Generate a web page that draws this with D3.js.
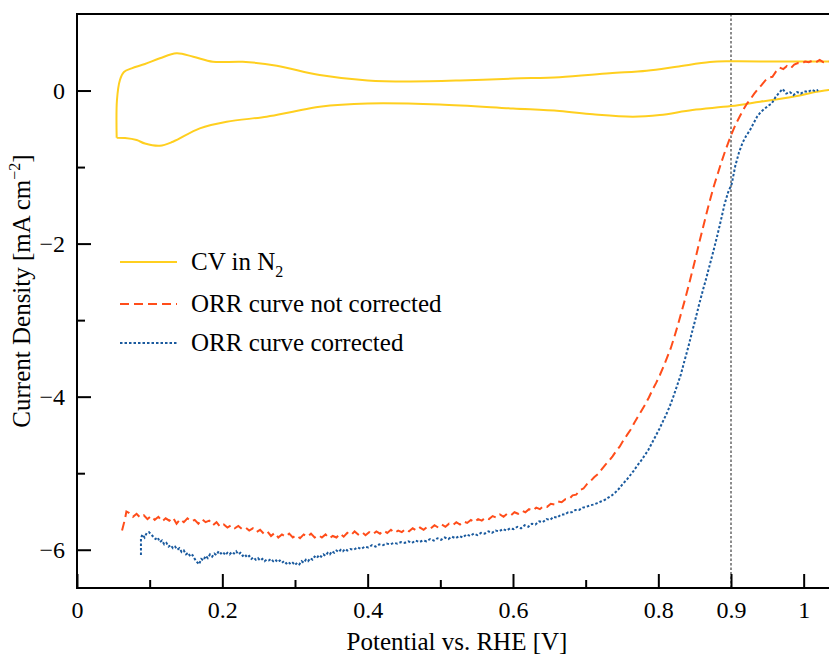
<!DOCTYPE html>
<html><head><meta charset="utf-8">
<script src="https://cdn.jsdelivr.net/npm/d3@7"></script>
<style>body{margin:0;background:#fff}svg{display:block}svg text{font-family:'Liberation Serif','Tinos','Times New Roman',Times,'DejaVu Serif',serif !important;fill:#000}</style>
</head><body>
<svg id="c" width="829" height="655"></svg>
<script>
// ---- data ----
const xMajorTicks = [0, 0.2, 0.4, 0.6, 0.8, 0.9, 1];
const xMajorLabels = ["0", "0.2", "0.4", "0.6", "0.8", "0.9", "1"];
const xMinorTicks = [0.1, 0.3, 0.5, 0.7];
const yMajorTicks = [0, -2, -4, -6];
const yMajorLabels = ["0", "\u22122", "\u22124", "\u22126"];
const yMinorTicks = [-1, -3, -5];
const refLineX = 0.9;
const seriesNames = ["CV in N", "ORR curve not corrected", "ORR curve corrected"];

// CV in N2 (closed loop)
const cvX = [0.0546,0.055,0.0591,0.0646,0.0752,0.0935,0.114,0.137,0.160,0.187,0.228,0.275,0.334,0.400,0.458,0.527,0.600,0.664,0.733,0.784,0.825,0.871,0.900,0.967,1.034,1.05,
 1.05,1.034,1.018,0.985,0.940,0.900,0.847,0.802,0.765,0.710,0.664,0.600,0.499,0.400,0.334,0.297,0.261,0.206,0.169,0.132,0.114,0.0935,0.0821,0.066,0.0546];
const cvY = [-0.617,-0.124,0.137,0.242,0.290,0.346,0.421,0.486,0.442,0.376,0.376,0.324,0.203,0.131,0.118,0.131,0.157,0.173,0.225,0.259,0.311,0.373,0.382,0.379,0.379,0.379,
 0.03,0.007,-0.016,-0.081,-0.146,-0.203,-0.255,-0.320,-0.342,-0.311,-0.268,-0.235,-0.183,-0.170,-0.212,-0.277,-0.342,-0.408,-0.494,-0.669,-0.722,-0.693,-0.647,-0.621,-0.617];

// ORR not corrected
const orrX = [0.062,0.066,0.068,0.072,0.077,0.082,0.087,0.092,0.097,0.102,0.107,0.112,0.117,0.122,0.127,0.132,0.137,0.142,0.147,0.152,0.157,0.162,0.167,0.172,0.177,0.182,0.187,0.192,0.197,0.202,0.207,0.212,0.217,0.222,0.227,0.232,0.237,0.242,0.247,0.252,0.257,0.262,0.267,0.272,0.277,0.282,0.287,0.292,0.297,0.302,0.307,0.312,0.317,0.322,0.327,0.332,0.337,0.342,0.347,0.352,0.357,0.362,0.367,0.372,0.377,0.382,0.387,0.392,0.397,0.402,0.407,0.412,0.417,0.422,0.427,0.432,0.437,0.442,0.447,0.452,0.457,0.462,0.467,0.472,0.477,0.482,0.487,0.492,0.497,0.502,0.507,0.512,0.517,0.522,0.527,0.532,0.537,0.542,0.547,0.552,0.557,0.562,0.567,0.572,0.577,0.582,0.587,0.592,0.597,0.602,0.607,0.612,0.617,0.622,0.627,0.632,0.637,0.642,0.647,0.652,0.657,0.662,0.667,0.672,0.677,0.682,0.687,0.692,0.697,0.702,0.707,0.712,0.717,0.722,0.727,0.732,0.737,0.742,0.747,0.752,0.757,0.762,0.767,0.772,0.777,0.782,0.787,0.792,0.797,0.802,0.807,0.812,0.817,0.822,0.827,0.832,0.837,0.842,0.847,0.852,0.857,0.862,0.867,0.872,0.877,0.882,0.887,0.892,0.897,0.902,0.907,0.912,0.917,0.922,0.927,0.932,0.937,0.942,0.947,0.952,0.957,0.962,0.967,0.972,0.977,0.982,0.987,0.992,0.997,1.002,1.007,1.012,1.017,1.022,1.027,1.034,1.045];
const orrY = [-5.75,-5.60,-5.50,-5.52,-5.57,-5.53,-5.58,-5.55,-5.60,-5.56,-5.61,-5.57,-5.63,-5.59,-5.62,-5.58,-5.66,-5.60,-5.64,-5.59,-5.63,-5.61,-5.66,-5.60,-5.64,-5.62,-5.68,-5.64,-5.70,-5.67,-5.71,-5.68,-5.72,-5.69,-5.73,-5.71,-5.75,-5.72,-5.77,-5.74,-5.79,-5.76,-5.82,-5.78,-5.84,-5.80,-5.83,-5.79,-5.84,-5.81,-5.85,-5.80,-5.83,-5.79,-5.84,-5.81,-5.84,-5.80,-5.85,-5.82,-5.84,-5.79,-5.83,-5.78,-5.81,-5.76,-5.80,-5.77,-5.81,-5.77,-5.80,-5.76,-5.79,-5.75,-5.78,-5.74,-5.78,-5.75,-5.77,-5.73,-5.76,-5.72,-5.75,-5.71,-5.74,-5.70,-5.72,-5.68,-5.71,-5.67,-5.70,-5.66,-5.68,-5.64,-5.67,-5.63,-5.65,-5.61,-5.64,-5.60,-5.62,-5.58,-5.60,-5.56,-5.58,-5.54,-5.57,-5.53,-5.55,-5.51,-5.53,-5.49,-5.51,-5.47,-5.49,-5.45,-5.47,-5.43,-5.44,-5.40,-5.41,-5.37,-5.38,-5.34,-5.34,-5.29,-5.28,-5.22,-5.20,-5.14,-5.10,-5.05,-5.01,-4.95,-4.89,-4.84,-4.78,-4.71,-4.65,-4.57,-4.50,-4.43,-4.34,-4.26,-4.18,-4.10,-4.01,-3.91,-3.82,-3.72,-3.61,-3.49,-3.37,-3.22,-3.06,-2.89,-2.72,-2.54,-2.35,-2.16,-1.96,-1.77,-1.58,-1.40,-1.23,-1.08,-0.93,-0.79,-0.66,-0.54,-0.43,-0.34,-0.25,-0.17,-0.11,-0.04,0.02,0.07,0.13,0.17,0.18,0.25,0.30,0.28,0.32,0.29,0.34,0.36,0.35,0.38,0.37,0.39,0.37,0.40,0.37,0.38,0.38];

// ORR corrected
const corX = [0.088,0.088,0.090,0.093,0.096,0.099,0.102,0.105,0.108,0.111,0.114,0.117,0.120,0.123,0.126,0.129,0.132,0.135,0.138,0.141,0.144,0.147,0.150,0.153,0.156,0.159,0.162,0.165,0.168,0.171,0.174,0.177,0.180,0.183,0.186,0.189,0.192,0.195,0.198,0.201,0.204,0.207,0.210,0.213,0.216,0.219,0.222,0.225,0.228,0.231,0.234,0.237,0.240,0.243,0.246,0.249,0.252,0.255,0.258,0.261,0.264,0.267,0.270,0.273,0.276,0.279,0.282,0.285,0.288,0.291,0.294,0.297,0.300,0.303,0.306,0.309,0.312,0.315,0.318,0.321,0.324,0.327,0.330,0.333,0.336,0.339,0.342,0.345,0.348,0.351,0.354,0.357,0.360,0.363,0.366,0.369,0.372,0.376,0.381,0.386,0.391,0.396,0.401,0.406,0.411,0.416,0.421,0.426,0.431,0.436,0.441,0.446,0.451,0.456,0.461,0.466,0.471,0.476,0.481,0.486,0.491,0.496,0.501,0.506,0.511,0.516,0.521,0.526,0.531,0.536,0.541,0.546,0.551,0.556,0.561,0.566,0.571,0.576,0.581,0.586,0.591,0.596,0.601,0.606,0.611,0.616,0.621,0.626,0.631,0.636,0.641,0.646,0.651,0.656,0.661,0.666,0.671,0.676,0.681,0.686,0.691,0.696,0.701,0.706,0.711,0.716,0.721,0.726,0.731,0.736,0.741,0.746,0.751,0.756,0.761,0.766,0.771,0.776,0.781,0.786,0.791,0.796,0.801,0.806,0.811,0.816,0.821,0.826,0.831,0.836,0.841,0.846,0.851,0.856,0.861,0.866,0.871,0.876,0.881,0.886,0.891,0.896,0.901,0.906,0.911,0.916,0.921,0.926,0.931,0.936,0.941,0.946,0.951,0.956,0.961,0.966,0.971,0.976,0.981,0.986,0.991,0.996,1.001,1.006,1.011,1.016,1.020];
const corY = [-6.07,-5.85,-5.80,-5.84,-5.78,-5.77,-5.80,-5.83,-5.86,-5.84,-5.90,-5.88,-5.93,-5.91,-5.96,-5.94,-5.98,-5.96,-6.00,-5.98,-6.03,-6.01,-6.06,-6.04,-6.09,-6.07,-6.12,-6.16,-6.19,-6.12,-6.14,-6.08,-6.11,-6.06,-6.09,-6.05,-6.07,-6.02,-6.05,-6.03,-6.07,-6.04,-6.06,-6.03,-6.05,-6.02,-6.06,-6.04,-6.08,-6.06,-6.10,-6.08,-6.12,-6.10,-6.13,-6.11,-6.14,-6.12,-6.15,-6.13,-6.14,-6.12,-6.15,-6.13,-6.16,-6.14,-6.17,-6.15,-6.18,-6.16,-6.19,-6.17,-6.20,-6.17,-6.19,-6.15,-6.17,-6.13,-6.15,-6.11,-6.13,-6.09,-6.11,-6.07,-6.09,-6.06,-6.08,-6.04,-6.06,-6.02,-6.04,-6.01,-6.03,-6.00,-6.02,-5.99,-6.01,-5.99,-6.00,-5.97,-5.99,-5.96,-5.97,-5.94,-5.96,-5.93,-5.94,-5.92,-5.93,-5.91,-5.92,-5.90,-5.91,-5.89,-5.91,-5.88,-5.90,-5.88,-5.89,-5.86,-5.88,-5.85,-5.87,-5.84,-5.86,-5.83,-5.85,-5.82,-5.84,-5.80,-5.82,-5.79,-5.81,-5.78,-5.79,-5.76,-5.78,-5.75,-5.76,-5.73,-5.75,-5.72,-5.73,-5.70,-5.72,-5.68,-5.70,-5.66,-5.67,-5.63,-5.64,-5.60,-5.61,-5.57,-5.58,-5.54,-5.54,-5.51,-5.51,-5.48,-5.48,-5.45,-5.44,-5.42,-5.41,-5.39,-5.37,-5.35,-5.32,-5.29,-5.25,-5.20,-5.14,-5.09,-5.03,-4.97,-4.90,-4.84,-4.77,-4.70,-4.61,-4.52,-4.43,-4.33,-4.23,-4.12,-3.99,-3.85,-3.71,-3.53,-3.36,-3.17,-2.99,-2.80,-2.62,-2.45,-2.27,-2.09,-1.90,-1.70,-1.49,-1.33,-1.22,-0.98,-0.81,-0.68,-0.59,-0.52,-0.43,-0.34,-0.28,-0.24,-0.20,-0.17,-0.09,-0.03,0.02,-0.04,-0.02,-0.06,-0.02,-0.04,-0.01,-0.02,0.01,-0.01,0.01];

// ---- layout ----
const FONT = "'Liberation Serif','Tinos','Times New Roman',Times,'DejaVu Serif',serif";
const svg = d3.select("#c").attr("font-family", FONT);
const L = 77, R = 840, T = 14, B = 588;
const x = d3.scaleLinear().domain([0, 1.05]).range([L, R]);
const y = d3.scaleLinear().domain([-6.5, 1.0]).range([B, T]);

svg.append("defs").append("clipPath").attr("id","clip")
  .append("rect").attr("x", L).attr("y", T).attr("width", R - L).attr("height", B - T);

const g = svg.append("g").attr("clip-path","url(#clip)");

// reference line
g.append("line").attr("x1", x(refLineX)).attr("x2", x(refLineX)).attr("y1", T).attr("y2", B)
  .attr("stroke","#666").attr("stroke-width",1.5).attr("stroke-dasharray","2.5,2");

const lineCV = d3.line().x(d=>x(d[0])).y(d=>y(d[1])).curve(d3.curveCatmullRom.alpha(0.5));
const lineL = d3.line().x(d=>x(d[0])).y(d=>y(d[1]));

const cvColor = "#FFCF1F", orrColor = "#FF4D1A", corColor = "#1A5A9E";

g.append("path").datum(cvX.map((v,i)=>[v,cvY[i]])).attr("d", lineCV)
  .attr("fill","none").attr("stroke",cvColor).attr("stroke-width",2);
g.append("path").datum(orrX.map((v,i)=>[v,orrY[i]])).attr("d", lineL)
  .attr("fill","none").attr("stroke",orrColor).attr("stroke-width",2).attr("stroke-dasharray","9,5");
g.append("path").datum(corX.map((v,i)=>[v,corY[i]])).attr("d", lineL)
  .attr("fill","none").attr("stroke",corColor).attr("stroke-width",2).attr("stroke-dasharray","2.5,2");

// axes
const fs = 24;
const xAx = svg.append("g").attr("transform",`translate(0,${B})`)
  .call(d3.axisBottom(x).tickValues(xMajorTicks).tickSizeInner(-14).tickSizeOuter(0).tickPadding(13)
     .tickFormat((d,i)=>xMajorLabels[i]));
const xAxMin = svg.append("g").attr("transform",`translate(0,${B})`)
  .call(d3.axisBottom(x).tickValues(xMinorTicks).tickSizeInner(-8).tickSizeOuter(0).tickFormat(""));
const yAx = svg.append("g").attr("transform",`translate(${L},0)`)
  .call(d3.axisLeft(y).tickValues(yMajorTicks).tickSizeInner(-14).tickSizeOuter(0).tickPadding(12)
     .tickFormat((d,i)=>yMajorLabels[i]));
const yAxMin = svg.append("g").attr("transform",`translate(${L},0)`)
  .call(d3.axisLeft(y).tickValues(yMinorTicks).tickSizeInner(-8).tickSizeOuter(0).tickFormat(""));
[xAx,xAxMin,yAx,yAxMin].forEach(a=>{
  a.attr("font-family", FONT);
  a.select(".domain").remove();
  a.selectAll(".tick line").attr("stroke","#000").attr("stroke-width",2);
  a.selectAll(".tick text").attr("font-family",FONT).attr("font-size",fs).attr("fill","#000");
});
yAx.selectAll(".tick text").attr("dy","0.33em");

// spines
svg.append("line").attr("x1",L).attr("x2",L).attr("y1",T-1).attr("y2",B+1).attr("stroke","#000").attr("stroke-width",2);
svg.append("line").attr("x1",L).attr("x2",R).attr("y1",T).attr("y2",T).attr("stroke","#000").attr("stroke-width",2);
svg.append("line").attr("x1",L).attr("x2",R).attr("y1",B).attr("y2",B).attr("stroke","#000").attr("stroke-width",2);

// axis labels
svg.append("text").attr("x", 457).attr("y", 650).attr("text-anchor","middle").attr("font-size",25)
  .text("Potential vs. RHE [V]");
const yl = svg.append("text").attr("transform","translate(30,291) rotate(-90)").attr("text-anchor","middle").attr("font-size",25);
yl.append("tspan").text("Current Density [mA cm");
yl.append("tspan").attr("font-size",16).attr("dy",-10).text("\u22122");
yl.append("tspan").attr("dy",10).text("]");

// legend
const leg = [
  {name: seriesNames[0], color: cvColor, dash: null, sub: "2"},
  {name: seriesNames[1], color: orrColor, dash: "9,5"},
  {name: seriesNames[2], color: corColor, dash: "2.5,2"}
];
const legY = [262, 304, 343];
leg.forEach((d,i)=>{
  svg.append("line").attr("x1",120).attr("x2",177).attr("y1",legY[i]).attr("y2",legY[i])
    .attr("stroke",d.color).attr("stroke-width",2).attr("stroke-dasharray",d.dash);
  const t = svg.append("text").attr("x",191).attr("y",legY[i]+8).attr("font-size",25).text(d.name);
  if (d.sub) t.append("tspan").attr("font-size",16).attr("dy",7).text(d.sub);
});
</script>
</body></html>
